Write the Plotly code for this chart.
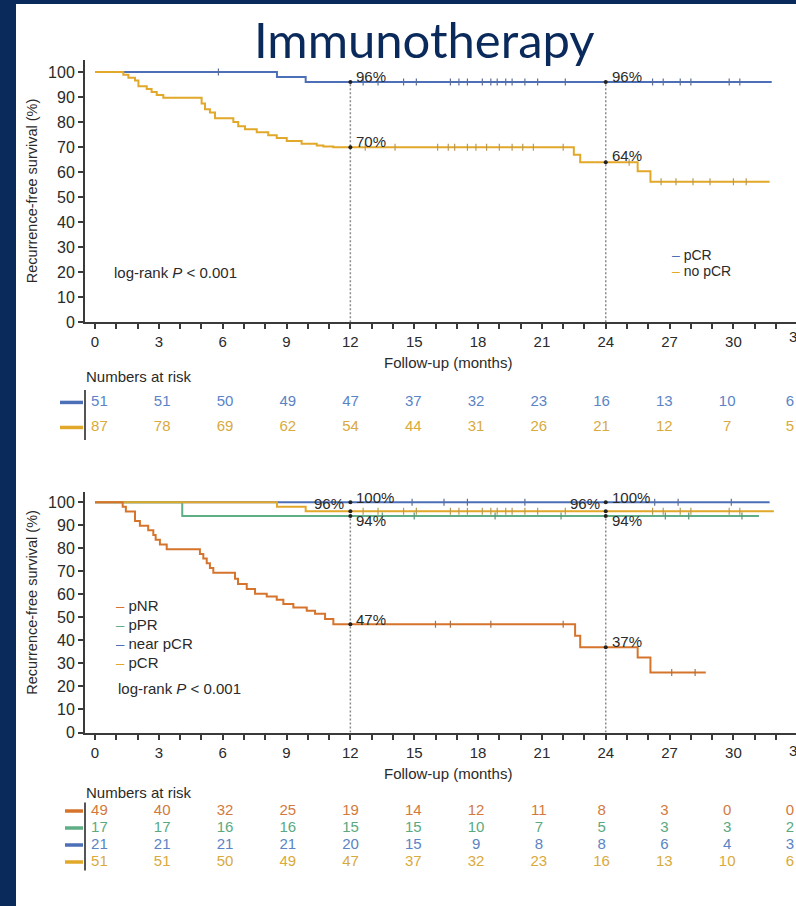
import plotly.graph_objects as go

W, H = 796, 916
REF_H = 906  # vertical layout grid used for positioning (screen rows)

# ---------------- data ----------------
axis_months = [0, 3, 6, 9, 12, 15, 18, 21, 24, 27, 30, 33]
risk_months = [0, 3, 6, 9, 12, 15, 18, 21, 24, 27, 30, 33]

# Panel A: pCR vs no pCR
a_pcr_t = [0, 8.55, 9.9, 31.8]
a_pcr_s = [100, 98.0, 96.0, 96.0]
a_nopcr_t = [0, 1.33, 1.57, 1.88, 2.04, 2.43, 2.66, 2.90, 3.21, 5.01, 5.17, 5.40, 5.64,
             6.50, 6.73, 7.05, 7.60, 8.14, 8.54, 9.01, 9.71, 10.42, 10.73, 11.2,
             22.5, 22.8, 25.5, 26.1, 31.7]
a_nopcr_s = [100, 98.9, 97.7, 96.6, 94.3, 93.2, 92.0, 90.8, 89.7, 87.4, 85.1, 83.9, 81.6,
             80.1, 78.4, 77.2, 76.0, 74.8, 73.7, 72.5, 71.4, 70.7, 70.3, 70.0,
             67.0, 64.0, 60.4, 56.2, 56.2]
a_pcr_cens = [5.8, 12.6, 13.3, 14.5, 15.1, 16.7, 17.1, 17.5, 18.2, 18.6, 18.9, 19.3, 19.6,
              20.2, 20.8, 22.1, 26.2, 26.7, 27.5, 28.0, 29.8, 30.3]
a_nopcr_cens = [12.7, 14.1, 16.1, 16.6, 16.9, 17.5, 17.9, 18.4, 19.0, 19.6, 20.1, 20.6,
                22.0, 25.1, 26.6, 27.3, 28.1, 28.9, 30.0, 30.6]
a_marks_t = [12, 12, 24, 24]
a_marks_s = [96, 70, 96, 64]

a_risk_rows = {
    "pCR": [51, 51, 50, 49, 47, 37, 32, 23, 16, 13, 10, 6],
    "no pCR": [87, 78, 69, 62, 54, 44, 31, 26, 21, 12, 7, 5],
}

# Panel B: pathological response categories
b_pnr_t = [0, 1.30, 1.45, 1.88, 2.11, 2.50, 2.74, 2.85, 3.05, 3.37, 3.99, 4.93, 5.09, 5.25,
           5.40, 5.56, 6.58, 6.72, 7.13, 7.52, 8.07, 8.54, 8.85, 9.32, 9.95, 10.34, 10.81,
           11.2, 22.56, 22.8, 25.5, 26.1, 28.7]
b_pnr_s = [100, 98.0, 95.9, 91.8, 89.8, 87.8, 85.7, 83.7, 81.6, 79.6, 79.6, 77.5, 75.5, 73.5,
           71.4, 69.4, 66.7, 64.5, 62.3, 60.2, 59.0, 57.6, 55.8, 54.3, 52.9, 51.5, 49.3,
           47.0, 42.0, 37.0, 32.6, 26.1, 26.1]
b_ppr_t = [0, 4.1, 31.2]
b_ppr_s = [100, 94.0, 94.0]
b_near_t = [0, 31.7]
b_near_s = [100, 100]
b_pcr_t = [0, 8.55, 9.9, 31.9]
b_pcr_s = [100, 98.0, 96.0, 96.0]
b_pnr_cens = [16.0, 16.7, 18.6, 22.0, 27.1, 28.2]
b_ppr_cens = [13.5, 15.0, 18.8, 21.9, 26.8, 27.9, 30.4]
b_near_cens = [14.9, 16.4, 17.5, 20.2, 26.3, 27.4, 29.9]
b_pcr_cens = [12.6, 13.3, 14.5, 15.1, 16.7, 17.1, 17.5, 18.2, 18.6, 18.9, 19.3, 19.6,
              20.2, 20.8, 22.1, 26.2, 26.7, 27.5, 28.0, 29.8, 30.3]
b_marks_t = [12, 12, 12, 12, 24, 24, 24, 24]
b_marks_s = [100, 96, 94, 47, 100, 96, 94, 37]

b_risk_rows = {
    "pNR": [49, 40, 32, 25, 19, 14, 12, 11, 8, 3, 0, 0],
    "pPR": [17, 17, 16, 16, 15, 15, 10, 7, 5, 3, 3, 2],
    "near pCR": [21, 21, 21, 21, 20, 15, 9, 8, 8, 6, 4, 3],
    "pCR": [51, 51, 50, 49, 47, 37, 32, 23, 16, 13, 10, 6],
}

# ---------------- styling ----------------
NAVY = "#0a2a5c"
BLUE = "#4d6fb8"
GOLD = "#e2a82a"
ORANGE = "#d6742c"
GREEN = "#5fae86"
RISK_COL_A = {"pCR": "#5a84c6", "no pCR": "#d9aa3c"}
RISK_COL_B = {"pNR": "#d27a3e", "pPR": "#5aa97f", "near pCR": "#5a84c6", "pCR": "#d9aa3c"}
KEY_COL_A = {"pCR": BLUE, "no pCR": GOLD}
KEY_COL_B = {"pNR": ORANGE, "pPR": GREEN, "near pCR": BLUE, "pCR": GOLD}
TXT = "#2a2a2a"
FONT = "Liberation Sans, Arial, sans-serif"
FS = 15


def fx(p):
    return p / W


def fy(p):
    return 1 - p / REF_H


fig = go.Figure()


def km(t, s, color, xa, ya, name):
    fig.add_trace(go.Scatter(x=t, y=s, mode="lines", line=dict(color=color, width=2, shape="hv"),
                             xaxis=xa, yaxis=ya, name=name, showlegend=False,
                             hoverinfo="skip"))


def censor(t_steps, s_steps, cens, color, xa, ya):
    ys = []
    for c in cens:
        v = s_steps[0]
        for tt, ss in zip(t_steps, s_steps):
            if tt <= c:
                v = ss
        ys.append(v)
    fig.add_trace(go.Scatter(x=cens, y=ys, mode="markers", xaxis=xa, yaxis=ya,
                             marker=dict(symbol="line-ns", size=5,
                                         line=dict(color=color, width=1.2)),
                             showlegend=False, hoverinfo="skip"))


# vertical landmark lines
for xa, ya, top in (("x", "y", 96), ("x2", "y2", 96)):
    for m in (12, 24):
        fig.add_trace(go.Scatter(x=[m, m], y=[0, top], mode="lines", xaxis=xa, yaxis=ya,
                                 line=dict(color="#8a8a8a", width=1.5, dash="2px,2px"),
                                 showlegend=False, hoverinfo="skip"))

# Panel A curves
km(a_pcr_t, a_pcr_s, BLUE, "x", "y", "pCR")
km(a_nopcr_t, a_nopcr_s, GOLD, "x", "y", "no pCR")
censor(a_pcr_t, a_pcr_s, a_pcr_cens, "#5c6f99", "x", "y")
censor(a_nopcr_t, a_nopcr_s, a_nopcr_cens, "#b89a55", "x", "y")
fig.add_trace(go.Scatter(x=a_marks_t, y=a_marks_s, mode="markers", xaxis="x", yaxis="y",
                         marker=dict(color="#222", size=4), showlegend=False,
                         hoverinfo="skip"))

# Panel B curves
km(b_near_t, b_near_s, BLUE, "x2", "y2", "near pCR")
km(b_ppr_t, b_ppr_s, GREEN, "x2", "y2", "pPR")
km(b_pcr_t, b_pcr_s, GOLD, "x2", "y2", "pCR")
km(b_pnr_t, b_pnr_s, ORANGE, "x2", "y2", "pNR")
censor(b_near_t, b_near_s, b_near_cens, "#5c6f99", "x2", "y2")
censor(b_ppr_t, b_ppr_s, b_ppr_cens, "#5f9478", "x2", "y2")
censor(b_pcr_t, b_pcr_s, b_pcr_cens, "#b89a55", "x2", "y2")
censor(b_pnr_t, b_pnr_s, b_pnr_cens, "#a9714a", "x2", "y2")
fig.add_trace(go.Scatter(x=b_marks_t, y=b_marks_s, mode="markers", xaxis="x2", yaxis="y2",
                         marker=dict(color="#222", size=4), showlegend=False,
                         hoverinfo="skip"))


# Numbers-at-risk tables (text traces on their own hidden axes)
def risk_table(rows, colors, xa, ya):
    for i, nm in enumerate(rows):
        fig.add_trace(go.Scatter(x=risk_months, y=[i] * len(risk_months), mode="text",
                                 text=[str(v) for v in rows[nm]], xaxis=xa, yaxis=ya,
                                 textfont=dict(color=colors[nm], size=FS, family=FONT),
                                 cliponaxis=False, showlegend=False, hoverinfo="skip"))


risk_table(a_risk_rows, RISK_COL_A, "x3", "y3")
risk_table(b_risk_rows, RISK_COL_B, "x4", "y4")

# last month label sits on the page edge: draw it clipped to the plotting width
for ya in ("y5", "y6"):
    fig.add_trace(go.Scatter(x=axis_months[-1:], y=[0.5], mode="text",
                             text=[str(axis_months[-1])], xaxis="x5", yaxis=ya,
                             textfont=dict(color=TXT, size=FS, family=FONT),
                             cliponaxis=True, showlegend=False, hoverinfo="skip"))

# ---------------- axes ----------------
x_range = [-0.47, 32.94]
tab_range = [-0.69, 33.29]
axis_common = dict(showline=True, linecolor="#3a3a3a", linewidth=2, ticks="outside",
                   ticklen=5, tickwidth=1.5, tickcolor="#3a3a3a", showgrid=False,
                   zeroline=False)
xtick = dict(tickmode="array", tickvals=axis_months, ticktext=[str(m) for m in axis_months],
             tickfont=dict(family=FONT, size=FS, color=TXT),
             minor=dict(dtick=1, tick0=0, ticks="outside", ticklen=5, tickwidth=1.5,
                        tickcolor="#3a3a3a"))
ytick = dict(dtick=10, tickfont=dict(family=FONT, size=16, color=TXT))

x_dom = [fx(85), 1.0]
fig.update_layout(
    xaxis=dict(domain=x_dom, range=x_range, anchor="y", **xtick, **axis_common),
    yaxis=dict(domain=[fy(322), fy(60)], range=[0, 104.8], anchor="x", **ytick, **axis_common),
    xaxis2=dict(domain=x_dom, range=x_range, anchor="y2", **xtick, **axis_common),
    yaxis2=dict(domain=[fy(731.7), fy(491.7)], range=[0, 104.3], anchor="x2", **ytick,
                **axis_common),
    xaxis3=dict(domain=x_dom, range=tab_range, anchor="y3", visible=False),
    yaxis3=dict(domain=[fy(439.5), fy(389.5)], range=[1.5, -0.5], anchor="x3", visible=False),
    xaxis4=dict(domain=x_dom, range=tab_range, anchor="y4", visible=False),
    yaxis4=dict(domain=[fy(869.5), fy(801.5)], range=[3.5, -0.5], anchor="x4", visible=False),
    xaxis5=dict(domain=x_dom, range=x_range, anchor="y5", visible=False),
    yaxis5=dict(domain=[fy(350), fy(326)], range=[0, 1], anchor="x5", visible=False),
    yaxis6=dict(domain=[fy(763), fy(739)], range=[0, 1], anchor="x5", visible=False),
    width=W, height=H, margin=dict(l=0, r=0, t=0, b=0),
    paper_bgcolor="white", plot_bgcolor="rgba(0,0,0,0)",
    font=dict(family=FONT, size=FS, color=TXT),
)

ann = []
shapes = []


def text(t, x, y, xanchor="left", size=FS, **kw):
    ann.append(dict(text=t, x=fx(x), y=fy(y), xref="paper", yref="paper", showarrow=False,
                    xanchor=xanchor, yanchor="middle",
                    font=dict(family=kw.pop("family", FONT), size=size,
                              color=kw.pop("color", TXT)), **kw))


# frame
shapes.append(dict(type="rect", xref="paper", yref="paper", x0=0, x1=fx(16), y0=-0.05, y1=1,
                   fillcolor=NAVY, line=dict(width=0), layer="above"))
shapes.append(dict(type="rect", xref="paper", yref="paper", x0=0, x1=1, y0=fy(4), y1=1,
                   fillcolor=NAVY, line=dict(width=0), layer="above"))

text("Immunotherapy", 424, 39, xanchor="center", size=49,
     family="Lato, Open Sans, sans-serif", color=NAVY)

for ycen in (191, 602):
    text("Recurrence-free survival (%)", 32, ycen, xanchor="center", size=14.5, textangle=-90)
for yc in (362, 773):
    text("Follow-up (months)", 448, yc, xanchor="center")
for (xl, yc) in ((112, 272), (116, 688)):
    text("log-rank <i>P</i> < 0.001", xl, yc)

# legends
for nm, yc in (("pCR", 255), ("no pCR", 271)):
    text(f"<span style='color:{KEY_COL_A[nm]}'>–</span> {nm}", 670, yc, size=14)
for nm, yc in (("pNR", 605), ("pPR", 624), ("near pCR", 643), ("pCR", 662)):
    text(f"<span style='color:{KEY_COL_B[nm]}'>–</span> {nm}", 114, yc)


# landmark labels
def lab(xa, ya, t, v, side, dy):
    ann.append(dict(text=f"{v:g}%", x=t, y=v, xref=xa, yref=ya, showarrow=False,
                    xanchor="left" if side > 0 else "right", yanchor="middle",
                    xshift=4 * side, yshift=dy,
                    font=dict(size=FS, color=TXT, family=FONT)))


lab("x", "y", 12, a_marks_s[0], 1, 6)
lab("x", "y", 12, a_marks_s[1], 1, 6)
lab("x", "y", 24, a_marks_s[2], 1, 6)
lab("x", "y", 24, a_marks_s[3], 1, 7)
lab("x2", "y2", 12, b_marks_s[0], 1, 5)
lab("x2", "y2", 12, b_marks_s[1], -1, 8)
lab("x2", "y2", 12, b_marks_s[2], 1, -5)
lab("x2", "y2", 12, b_marks_s[3], 1, 5)
lab("x2", "y2", 24, b_marks_s[4], 1, 5)
lab("x2", "y2", 24, b_marks_s[5], -1, 8)
lab("x2", "y2", 24, b_marks_s[6], 1, -5)
lab("x2", "y2", 24, b_marks_s[7], 1, 6)

# numbers-at-risk headers and row keys
for yc in (376, 792):
    text("Numbers at risk", 84, yc)

for ya, names, colmap, x0, n in (("y3", list(a_risk_rows), KEY_COL_A, 60, 2),
                                 ("y4", list(b_risk_rows), KEY_COL_B, 65, 4)):
    for i, nm in enumerate(names):
        shapes.append(dict(type="line", xref="paper", yref=ya, x0=fx(x0), x1=fx(83), y0=i,
                           y1=i, line=dict(color=colmap[nm], width=3.5)))
    shapes.append(dict(type="line", xref="paper", yref=ya, x0=fx(85), x1=fx(85), y0=-0.6,
                       y1=n - 0.4, line=dict(color="#555", width=2)))

fig.update_layout(annotations=ann, shapes=shapes)
fig.write_html("out.html")
